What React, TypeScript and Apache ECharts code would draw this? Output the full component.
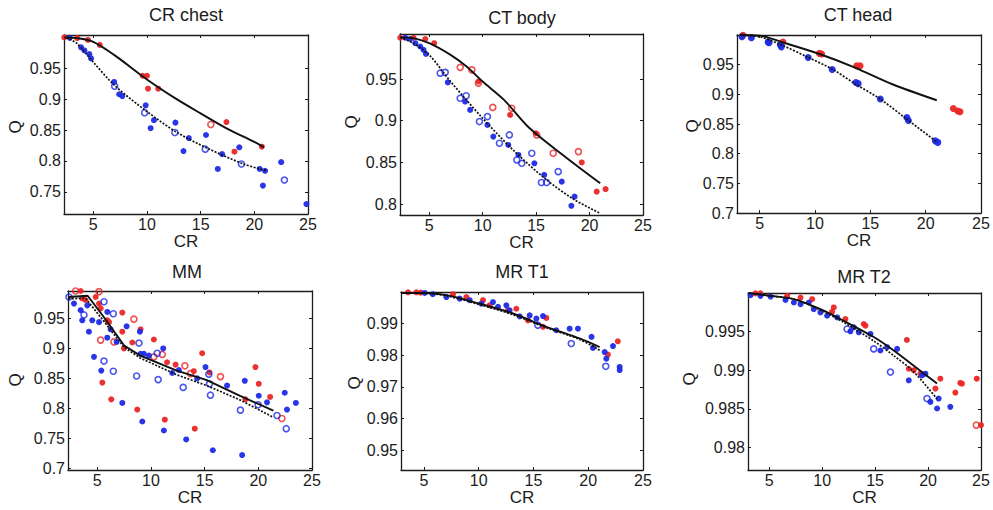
import React, { useEffect, useRef } from "react";
import * as echarts from "echarts";

type Pt = [number, number];

// ---------- tick labels & titles ----------
const panelTitles = ["CR chest", "CT body", "CT head", "MM", "MR T1", "MR T2"];
const xTicks = [5, 10, 15, 20, 25];
const chestYTicks = [0.75, 0.8, 0.85, 0.9, 0.95];
const bodyYTicks = [0.8, 0.85, 0.9, 0.95];
const headYTicks = [0.7, 0.75, 0.8, 0.85, 0.9, 0.95];
const mmYTicks = [0.7, 0.75, 0.8, 0.85, 0.9, 0.95];
const t1YTicks = [0.95, 0.96, 0.97, 0.98, 0.99];
const t2YTicks = [0.98, 0.985, 0.99, 0.995];

// ---------- CR chest ----------
const chestRedLine: Pt[] = [[2.3, 1.0], [3.5, 0.999], [5, 0.993], [7, 0.971], [10, 0.932], [12.5, 0.903], [15, 0.877], [17.5, 0.852], [20, 0.831], [20.9, 0.822]];
const chestBlueLine: Pt[] = [[2.5, 1.0], [3.5, 0.99], [5, 0.96], [7, 0.922], [10, 0.88], [12.8, 0.846], [15.7, 0.82], [19, 0.795], [21.2, 0.784]];
const chestRedDots: Pt[] = [[2.3, 1.0], [3.5, 0.999], [4.5, 0.996], [5.6, 0.988], [9.6, 0.938], [10.0, 0.938], [10.1, 0.917], [11.05, 0.917], [17.4, 0.863], [18.15, 0.815], [20.7, 0.823]];
const chestRedRings: Pt[] = [[15.95, 0.859]];
const chestBlueDots: Pt[] = [[2.8, 0.9995], [3.86, 0.984], [4.17, 0.979], [4.63, 0.973], [4.79, 0.966], [6.94, 0.928], [7.41, 0.908], [7.7, 0.905], [9.88, 0.89], [10.65, 0.866], [10.34, 0.853], [12.65, 0.862], [13.9, 0.837], [13.4, 0.816], [15.5, 0.842], [17.0, 0.811], [16.6, 0.787], [18.6, 0.822], [20.5, 0.787], [21.0, 0.784], [20.8, 0.76], [22.5, 0.798], [24.85, 0.73]];
const chestBlueRings: Pt[] = [[6.99, 0.921], [9.78, 0.878], [12.6, 0.846], [15.43, 0.819], [18.8, 0.795], [22.8, 0.769]];

// ---------- CT body ----------
const bodyRedLine: Pt[] = [[2.3, 1.0], [3.5, 0.999], [5, 0.993], [7, 0.979], [8.5, 0.965], [10, 0.947], [12, 0.925], [14.4, 0.891], [17.5, 0.859], [21, 0.825]];
const bodyBlueLine: Pt[] = [[2.3, 1.0], [3.5, 0.993], [5, 0.979], [7, 0.947], [10, 0.903], [13, 0.863], [16, 0.829], [18.5, 0.806], [21, 0.789]];
const bodyRedDots: Pt[] = [[2.29, 0.9995], [3.54, 0.9995], [4.63, 0.998], [5.47, 0.993], [9.6, 0.947], [12.57, 0.907], [14.97, 0.885], [19.27, 0.85], [20.67, 0.815], [21.5, 0.818]];
const bodyRedRings: Pt[] = [[7.9, 0.964], [8.99, 0.961], [9.6, 0.945], [10.95, 0.916], [12.72, 0.915], [15.06, 0.883], [16.6, 0.861], [18.96, 0.863]];
const bodyBlueDots: Pt[] = [[2.76, 0.9995], [3.22, 0.998], [3.7, 0.993], [4.16, 0.989], [4.47, 0.985], [4.7, 0.98], [6.74, 0.946], [8.36, 0.923], [8.83, 0.913], [10.45, 0.895], [11.0, 0.881], [12.4, 0.871], [13.35, 0.859], [14.84, 0.849], [15.76, 0.835], [17.4, 0.827], [18.6, 0.809], [18.3, 0.798]];
const bodyBlueRings: Pt[] = [[6.03, 0.957], [6.5, 0.958], [7.9, 0.927], [8.46, 0.93], [9.7, 0.899], [10.45, 0.905], [11.57, 0.873], [12.5, 0.883], [13.2, 0.853], [13.66, 0.849], [14.6, 0.861], [15.5, 0.826], [15.98, 0.826], [17.07, 0.839]];

// ---------- CT head ----------
const headRedLine: Pt[] = [[3.2, 1.0], [5, 0.999], [7, 0.988], [10.4, 0.968], [13.5, 0.946], [17, 0.917], [21, 0.89]];
const headBlueLine: Pt[] = [[3.2, 1.0], [5, 0.997], [7, 0.983], [9.3, 0.963], [11.6, 0.942], [13.6, 0.918], [15.9, 0.892], [18.3, 0.858], [21, 0.82]];
const headRedDots: Pt[] = [[3.49, 0.9995], [7.1, 0.988], [10.6, 0.968], [10.4, 0.969], [13.77, 0.948], [14.07, 0.948], [22.5, 0.876], [22.9, 0.872], [23.1, 0.8705]];
const headRedRings: Pt[] = [];
const headBlueDots: Pt[] = [[3.4, 0.997], [4.25, 0.9955], [5.76, 0.988], [5.85, 0.987], [6.87, 0.983], [6.96, 0.98], [9.38, 0.962], [11.55, 0.942], [13.7, 0.92], [13.9, 0.918], [15.9, 0.892], [18.3, 0.861], [18.44, 0.856], [20.87, 0.8216], [21.1, 0.819]];
const headBlueRings: Pt[] = [];

// ---------- MM ----------
const mmRedLine: Pt[] = [[2.3, 0.986], [4.1, 0.988], [5.5, 0.955], [7.5, 0.905], [9, 0.888], [12.4, 0.863], [15.2, 0.847], [18.3, 0.821], [21.4, 0.796]];
const mmBlueLine: Pt[] = [[2.3, 0.983], [3.9, 0.984], [5.5, 0.948], [7.5, 0.902], [9, 0.884], [12.4, 0.856], [15.2, 0.838], [18.3, 0.814], [21.4, 0.785]];
const mmRedDots: Pt[] = [[3.45, 0.996], [3.6, 0.9836], [3.9, 0.981], [4.85, 0.986], [5.16, 0.975], [5.31, 0.967], [5.93, 0.947], [6.09, 0.944], [7.33, 0.96], [7.33, 0.928], [7.48, 0.9], [9.03, 0.932], [8.26, 0.91], [10.27, 0.915], [11.5, 0.877], [12.29, 0.873], [13.99, 0.862], [14.77, 0.892], [15.45, 0.86], [19.73, 0.869], [20.04, 0.841], [18.8, 0.815], [21.1, 0.819], [5.47, 0.843], [6.3, 0.815], [8.72, 0.798], [11.29, 0.781], [14.08, 0.766]];
const mmRedRings: Pt[] = [[2.98, 0.996], [5.16, 0.995], [5.31, 0.914], [6.55, 0.911], [8.41, 0.949], [10.27, 0.886], [11.05, 0.89], [13.16, 0.871], [13.68, 0.858], [16.47, 0.853], [22.2, 0.783]];
const mmBlueDots: Pt[] = [[2.83, 0.975], [3.45, 0.964], [3.6, 0.947], [4.07, 0.972], [4.22, 0.928], [4.53, 0.947], [4.69, 0.886], [5.16, 0.944], [5.93, 0.961], [5.37, 0.863], [6.24, 0.932], [5.93, 0.918], [6.8, 0.911], [7.73, 0.937], [7.33, 0.809], [8.97, 0.928], [9.03, 0.891], [9.34, 0.891], [9.19, 0.778], [9.81, 0.888], [11.14, 0.9], [11.2, 0.763], [11.98, 0.859], [12.6, 0.864], [13.28, 0.748], [14.3, 0.85], [15.08, 0.869], [15.76, 0.73], [17.09, 0.838], [18.49, 0.722], [18.74, 0.846], [20.04, 0.821], [20.81, 0.81], [22.46, 0.826], [22.67, 0.798], [23.5, 0.809]];
const mmBlueRings: Pt[] = [[2.36, 0.986], [3.76, 0.956], [5.62, 0.978], [6.49, 0.958], [5.62, 0.879], [6.49, 0.862], [8.66, 0.854], [8.88, 0.909], [10.58, 0.892], [10.67, 0.848], [13.0, 0.835], [15.39, 0.857], [15.45, 0.841], [15.54, 0.822], [18.33, 0.797], [19.98, 0.806], [21.74, 0.788], [22.6, 0.766]];

// ---------- MR T1 ----------
const t1RedLine: Pt[] = [[2.9, 0.9997], [5, 0.9997], [7.04, 0.999], [10.08, 0.9963], [13.13, 0.9932], [16.17, 0.989], [19.2, 0.9853], [21.04, 0.9826]];
const t1BlueLine: Pt[] = [[2.9, 0.9996], [5, 0.9996], [7.04, 0.9988], [10.08, 0.996], [13.13, 0.9928], [16.17, 0.9887], [19.2, 0.985], [21.04, 0.9816]];
const t1RedDots: Pt[] = [[3.54, 0.9999], [4.3, 0.9999], [4.7, 0.9998], [7.65, 0.9993], [8.87, 0.9984], [10.39, 0.9974], [10.99, 0.9958], [12.67, 0.9942], [13.43, 0.9947], [14.5, 0.991], [16.17, 0.9918], [15.87, 0.989], [22.7, 0.9844], [21.8, 0.9802]];
const t1RedRings: Pt[] = [];
const t1BlueDots: Pt[] = [[5.06, 0.9997], [5.8, 0.9993], [7.04, 0.9984], [8.26, 0.9979], [9.17, 0.9974], [10.24, 0.9963], [11.3, 0.9968], [11.76, 0.9953], [12.52, 0.9958], [12.82, 0.9942], [13.74, 0.9923], [14.65, 0.9926], [15.26, 0.9916], [15.87, 0.9924], [17.08, 0.9879], [18.3, 0.9884], [19.06, 0.9884], [20.3, 0.9858], [20.43, 0.9823], [21.5, 0.981], [21.65, 0.9789], [22.26, 0.9829], [22.87, 0.9763], [22.87, 0.9753]];
const t1BlueRings: Pt[] = [[15.4, 0.9895], [18.45, 0.9837], [21.6, 0.9765]];

// ---------- MR T2 ----------
const t2RedLine: Pt[] = [[3.08, 1.0], [5.13, 0.99963], [7.33, 0.9992], [9.84, 0.9979], [12.04, 0.9964], [14.87, 0.9943], [16.76, 0.99256], [19.59, 0.9896], [20.85, 0.9883]];
const t2BlueLine: Pt[] = [[3.08, 1.0], [5.13, 0.99963], [7.33, 0.9992], [9.84, 0.9978], [12.04, 0.9962], [14.87, 0.9938], [16.76, 0.9919], [18.65, 0.9898], [20.85, 0.9863]];
const t2RedDots: Pt[] = [[3.71, 0.99995], [4.18, 0.99995], [6.7, 0.99963], [7.96, 0.99941], [9.06, 0.9992], [11.1, 0.99813], [10.94, 0.99757], [12.2, 0.99663], [13.93, 0.99599], [14.09, 0.99577], [18.0, 0.99393], [18.18, 0.9902], [18.65, 0.98999], [19.28, 0.98956], [20.69, 0.98763], [21.16, 0.98891], [23.05, 0.98836], [23.2, 0.98827], [22.58, 0.98711], [24.6, 0.98891], [25.0, 0.98291]];
const t2RedRings: Pt[] = [[24.56, 0.98291]];
const t2BlueDots: Pt[] = [[3.24, 0.99971], [4.18, 0.99963], [5.13, 0.99954], [6.54, 0.99911], [7.33, 0.99877], [7.96, 0.99856], [8.74, 0.99877], [9.21, 0.99791], [9.84, 0.99749], [10.47, 0.99706], [11.42, 0.99684], [12.67, 0.99504], [12.99, 0.99556], [13.46, 0.99491], [14.56, 0.9947], [15.5, 0.99256], [16.13, 0.99299], [17.08, 0.99277], [18.18, 0.9887], [19.43, 0.98934], [19.75, 0.98956], [20.22, 0.98591], [20.85, 0.98506], [21.0, 0.98634], [22.1, 0.98527]];
const t2BlueRings: Pt[] = [[12.36, 0.99534], [14.87, 0.99277], [16.45, 0.98977], [19.9, 0.98634]];

const RED = "#eb2626";
const BLUE = "#1e2ae6";
const INK = "#1c1c1c";
const FONT = "'Liberation Sans', Arial, Helvetica, sans-serif";

const panels = [
  { title: panelTitles[0], xMin: 2.27, yMin: 0.714, yMax: 1.004, yTicks: chestYTicks, redLine: chestRedLine, blueLine: chestBlueLine, redDots: chestRedDots, redRings: chestRedRings, blueDots: chestBlueDots, blueRings: chestBlueRings, smooth: 0.3 },
  { title: panelTitles[1], xMin: 2.27, yMin: 0.787, yMax: 1.004, yTicks: bodyYTicks, redLine: bodyRedLine, blueLine: bodyBlueLine, redDots: bodyRedDots, redRings: bodyRedRings, blueDots: bodyBlueDots, blueRings: bodyBlueRings, smooth: 0.3 },
  { title: panelTitles[2], xMin: 2.95, yMin: 0.7, yMax: 1.0, yTicks: headYTicks, redLine: headRedLine, blueLine: headBlueLine, redDots: headRedDots, redRings: headRedRings, blueDots: headBlueDots, blueRings: headBlueRings, smooth: 0.3 },
  { title: panelTitles[3], xMin: 2.27, yMin: 0.697, yMax: 0.996, yTicks: mmYTicks, redLine: mmRedLine, blueLine: mmBlueLine, redDots: mmRedDots, redRings: mmRedRings, blueDots: mmBlueDots, blueRings: mmBlueRings, smooth: 0 },
  { title: panelTitles[4], xMin: 2.9, yMin: 0.9437, yMax: 1.0, yTicks: t1YTicks, redLine: t1RedLine, blueLine: t1BlueLine, redDots: t1RedDots, redRings: t1RedRings, blueDots: t1BlueDots, blueRings: t1BlueRings, smooth: 0.3 },
  { title: panelTitles[5], xMin: 3.0, yMin: 0.9771, yMax: 1.0, yTicks: t2YTicks, redLine: t2RedLine, blueLine: t2BlueLine, redDots: t2RedDots, redRings: t2RedRings, blueDots: t2BlueDots, blueRings: t2BlueRings, smooth: 0.3 },
];

const GRIDS = [
  { left: 64, top: 35, width: 244, height: 179, titleX: 186, titleY: 15, qX: 15, qY: 127 },
  { left: 400, top: 34, width: 243, height: 181, titleX: 522, titleY: 18, qX: 351, qY: 122 },
  { left: 737, top: 35, width: 244, height: 178, titleX: 858, titleY: 15, qX: 692, qY: 126 },
  { left: 68, top: 291, width: 244, height: 179, titleX: 187, titleY: 272, qX: 15, qY: 380 },
  { left: 401, top: 292, width: 242, height: 178, titleX: 522, titleY: 272, qX: 354, qY: 383 },
  { left: 748, top: 293, width: 233, height: 177, titleX: 864, titleY: 277, qX: 689, qY: 379 },
];

const fmt = (v: number) => String(+Number(v).toFixed(4));

function buildOption() {
  const grid: any[] = [];
  const xAxis: any[] = [];
  const yAxis: any[] = [];
  const series: any[] = [];
  const graphic: any[] = [];

  panels.forEach((p, i) => {
    const g = GRIDS[i];
    grid.push({ left: g.left, top: g.top, width: g.width, height: g.height, containLabel: false });
    const line = { show: true, onZero: false, lineStyle: { color: INK, width: 1.3 } };
    const tick = (vals: number[]) => ({ show: true, inside: true, length: 3, customValues: vals, lineStyle: { color: INK, width: 1 } });
    xAxis.push({
      type: "value", gridIndex: i, position: "bottom", min: p.xMin, max: 25,
      axisLine: line, axisTick: tick(xTicks), splitLine: { show: false },
      axisLabel: { customValues: xTicks, formatter: fmt, fontSize: 16, color: INK, fontFamily: FONT, margin: 2 },
      name: "CR", nameLocation: "middle", nameGap: 13,
      nameTextStyle: { fontSize: 17, color: INK, fontFamily: FONT },
    });
    xAxis.push({
      type: "value", gridIndex: i, position: "top", min: p.xMin, max: 25,
      axisLine: line, axisTick: tick(xTicks), splitLine: { show: false }, axisLabel: { show: false },
    });
    yAxis.push({
      type: "value", gridIndex: i, position: "left", min: p.yMin, max: p.yMax,
      axisLine: line, axisTick: tick(p.yTicks), splitLine: { show: false },
      axisLabel: { customValues: p.yTicks, formatter: fmt, fontSize: 16, color: INK, fontFamily: FONT, margin: 3 },
    });
    yAxis.push({
      type: "value", gridIndex: i, position: "right", min: p.yMin, max: p.yMax,
      axisLine: line, axisTick: tick(p.yTicks), splitLine: { show: false }, axisLabel: { show: false },
    });
    const xi = 2 * i;
    const yi = 2 * i;
    const size = i === 2 ? 7 : 6;
    const dot = (data: Pt[], color: string) => ({
      type: "scatter", xAxisIndex: xi, yAxisIndex: yi, data, symbol: "circle", symbolSize: size,
      itemStyle: { color, opacity: 0.95 }, clip: false, silent: true, z: 2,
    });
    const ring = (data: Pt[], color: string) => ({
      type: "scatter", xAxisIndex: xi, yAxisIndex: yi, data, symbol: "circle", symbolSize: size,
      itemStyle: { color: "rgba(0,0,0,0)", borderColor: color, borderWidth: 1.6 }, clip: false, silent: true, z: 2,
    });
    series.push(dot(p.redDots, RED), ring(p.redRings, RED), dot(p.blueDots, BLUE), ring(p.blueRings, BLUE));
    series.push({
      type: "line", xAxisIndex: xi, yAxisIndex: yi, data: p.redLine, showSymbol: false, smooth: p.smooth,
      lineStyle: { color: "#111", width: 1.9, type: "solid" }, silent: true, z: 3,
    });
    series.push({
      type: "line", xAxisIndex: xi, yAxisIndex: yi, data: p.blueLine, showSymbol: false, smooth: p.smooth,
      lineStyle: { color: "#111", width: 1.7, type: [2, 1.5] }, silent: true, z: 3,
    });
    graphic.push({
      type: "text", x: g.titleX, y: g.titleY,
      style: { text: p.title, fontSize: 18, fontFamily: FONT, fill: INK, align: "center", verticalAlign: "middle", textAlign: "center", textVerticalAlign: "middle" },
    });
    graphic.push({
      type: "text", x: g.qX, y: g.qY, rotation: Math.PI / 2,
      style: { text: "Q", fontSize: 17, fontFamily: FONT, fill: INK, align: "center", verticalAlign: "middle", textAlign: "center", textVerticalAlign: "middle" },
    });
  });

  return { animation: false, backgroundColor: "#ffffff", grid, xAxis, yAxis, series, graphic };
}

export default function App() {
  const ref = useRef<HTMLDivElement>(null);
  useEffect(() => {
    document.body.style.margin = "0";
    if (!ref.current) return;
    const chart = echarts.init(ref.current, undefined, { renderer: "svg" });
    chart.setOption(buildOption() as any);
    return () => chart.dispose();
  }, []);
  return <div ref={ref} style={{ width: 993, height: 510 }} />;
}
